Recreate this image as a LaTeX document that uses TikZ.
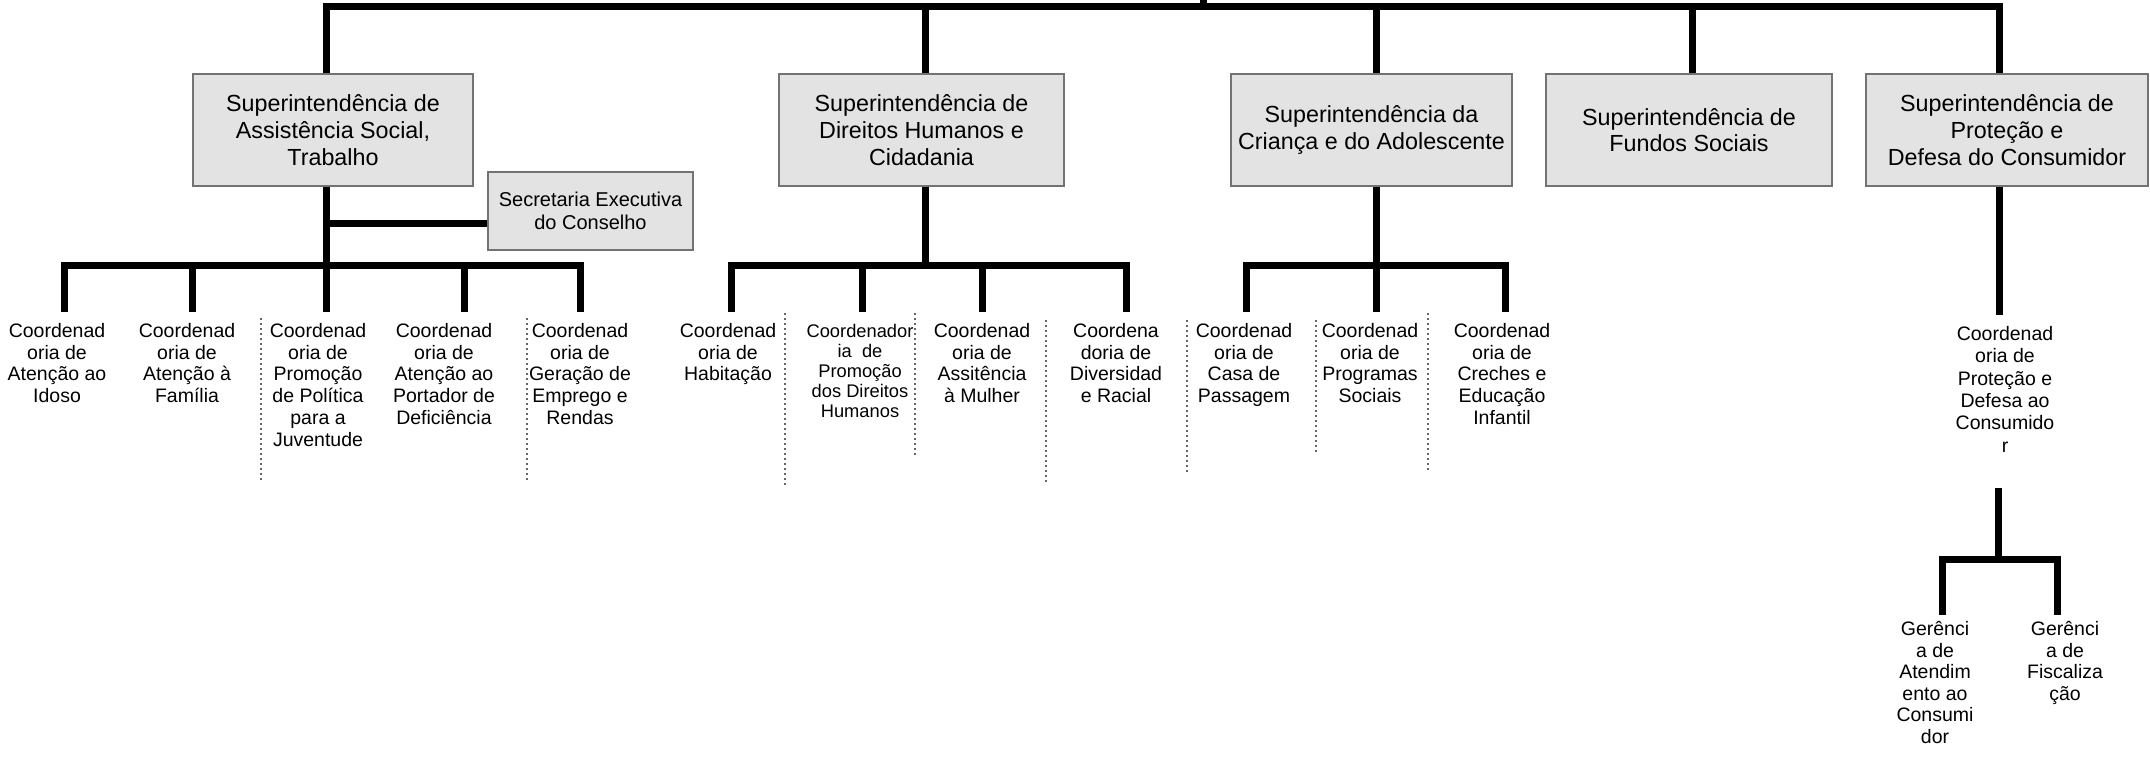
\documentclass[tikz,border=0pt]{standalone}
\usepackage{fontspec}
\setmainfont{Liberation Sans}
\begin{document}
\begin{tikzpicture}[x=1pt,y=-1pt,
  bar/.style={line width=7pt, line join=miter},
  fold/.style={line width=1.1pt, black!60, dash pattern=on 1.5pt off 3.5pt},
  supbox/.style={draw=black!55, line width=1.4pt, fill=gray!22, align=center,
    inner sep=0pt, minimum height=112pt, font=\fontsize{23.3}{26.7}\selectfont},
  secbox/.style={supbox, minimum height=78pt, minimum width=205pt,
    font=\fontsize{20}{23}\selectfont},
  coord/.style={align=center, anchor=north, inner xsep=0pt, inner ysep=11pt,
    font=\fontsize{19.5}{21.8}\selectfont},
  coordsm/.style={coord, inner ysep=12pt, font=\fontsize{18.3}{20}\selectfont},
  coordlg/.style={coord, inner ysep=11pt, font=\fontsize{19.5}{22.4}\selectfont},
  ger/.style={coordlg, inner ysep=6pt, font=\fontsize{19.5}{21.6}\selectfont}]
\useasboundingbox (0,0) rectangle (2150,757);

% superintendencies
\node[supbox, minimum width=280pt] (s1) at (333,130) {Superintendência de\\Assistência Social,\\Trabalho};
\node[supbox, minimum width=285pt] (s2) at (921.5,130) {Superintendência de\\Direitos Humanos e\\Cidadania};
\node[supbox, minimum width=281pt] (s3) at (1371.5,130) {Superintendência da\\Criança e do Adolescente};
\node[supbox, minimum width=286pt] (s4) at (1689,130) {Superintendência de\\Fundos Sociais};
\node[supbox, minimum width=282pt] (s5) at (2007,130) {Superintendência de\\Proteção e\\Defesa do Consumidor};
\node[secbox] (sec) at (590.5,211) {Secretaria Executiva\\do Conselho};

% coordinations
\node[coord] (c11) at (57,312) {Coordenad\\oria de\\Atenção ao\\Idoso};
\node[coord] (c12) at (187,312) {Coordenad\\oria de\\Atenção à\\Família};
\node[coord] (c13) at (318,312) {Coordenad\\oria de\\Promoção\\de Política\\para a\\Juventude};
\node[coord] (c14) at (444,312) {Coordenad\\oria de\\Atenção ao\\Portador de\\Deficiência};
\node[coord] (c15) at (580,312) {Coordenad\\oria de\\Geração de\\Emprego e\\Rendas};
\node[coord] (c21) at (728,312) {Coordenad\\oria de\\Habitação};
\node[coordsm] (c22) at (860,312) {Coordenador\\ia\ \ de\\Promoção\\dos Direitos\\Humanos};
\node[coord] (c23) at (982,312) {Coordenad\\oria de\\Assitência\\à Mulher};
\node[coord] (c24) at (1116,312) {Coordena\\doria de\\Diversidad\\e Racial};
\node[coord] (c31) at (1244,312) {Coordenad\\oria de\\Casa de\\Passagem};
\node[coord] (c32) at (1370,312) {Coordenad\\oria de\\Programas\\Sociais};
\node[coord] (c33) at (1502,312) {Coordenad\\oria de\\Creches e\\Educação\\Infantil};
\node[coordlg] (c51) at (2005,315) {Coordenad\\oria de\\Proteção e\\Defesa ao\\Consumido\\r};
\node[ger] (g51) at (1935,615) {Gerênci\\a de\\Atendim\\ento ao\\Consumi\\dor};
\node[ger] (g52) at (2065,615) {Gerênci\\a de\\Fiscaliza\\ção};

% junction points
\coordinate (tt) at (1203,0);
\coordinate (tb) at (1203,7);
\coordinate (v1) at (326,7);
\coordinate (v2) at (925,7);
\coordinate (v3) at (1376,7);
\coordinate (v4) at (1692,7);
\coordinate (v5) at (1999,7);
\coordinate (j1) at (326,265);
\coordinate (js) at (326,223);
\coordinate (h11) at (64,265);
\coordinate (h12) at (192,265);
\coordinate (h14) at (464,265);
\coordinate (h15) at (580,265);
\coordinate (j2) at (925,265);
\coordinate (h21) at (731,265);
\coordinate (h22) at (862,265);
\coordinate (h23) at (982,265);
\coordinate (h24) at (1126,265);
\coordinate (j3) at (1376,265);
\coordinate (h31) at (1246,265);
\coordinate (h33) at (1505,265);
\coordinate (p5) at (1998,488);
\coordinate (j5) at (1998,559);
\coordinate (h51) at (1942,559);
\coordinate (h52) at (2057,559);

% top level
\draw[bar] (tt) -- (tb);
\draw[bar] (s1.north -| v1) -- (v1) -- (v5) -- (s5.north -| v5);
\draw[bar] (v2) -- (s2.north -| v2);
\draw[bar] (v3) -- (s3.north -| v3);
\draw[bar] (v4) -- (s4.north -| v4);

% assistencia social
\draw[bar] (s1.south -| j1) -- (j1 |- c13.north);
\draw[bar] (js) -- (sec.west |- js);
\draw[bar] (h11 |- c11.north) -- (h11) -- (h15) -- (h15 |- c15.north);
\draw[bar] (h12) -- (h12 |- c12.north);
\draw[bar] (h14) -- (h14 |- c14.north);

% direitos humanos
\draw[bar] (s2.south -| j2) -- (j2);
\draw[bar] (h21 |- c21.north) -- (h21) -- (h24) -- (h24 |- c24.north);
\draw[bar] (h22) -- (h22 |- c22.north);
\draw[bar] (h23) -- (h23 |- c23.north);

% crianca e adolescente
\draw[bar] (s3.south -| j3) -- (j3 |- c32.north);
\draw[bar] (h31 |- c31.north) -- (h31) -- (h33) -- (h33 |- c33.north);

% protecao e defesa do consumidor
\draw[bar] (s5.south -| v5) -- (v5 |- c51.north);
\draw[bar] (p5) -- (j5);
\draw[bar] (h51 |- g51.north) -- (h51) -- (h52) -- (h52 |- g52.north);

% folded-table guide lines
\draw[fold] (261,318) -- (261,480);
\draw[fold] (527,318) -- (527,480);
\draw[fold] (785,313) -- (785,487);
\draw[fold] (915,313) -- (915,457);
\draw[fold] (1046,320) -- (1046,483);
\draw[fold] (1187,320) -- (1187,473);
\draw[fold] (1316,320) -- (1316,453);
\draw[fold] (1428,313) -- (1428,473);
\end{tikzpicture}
\end{document}
